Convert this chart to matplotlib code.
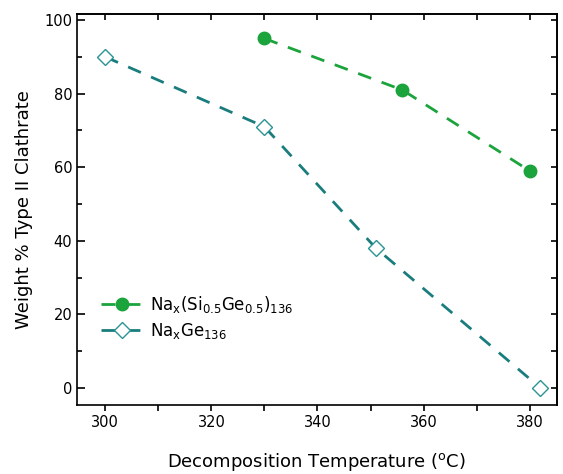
import matplotlib
matplotlib.use('Agg')
import matplotlib.pyplot as plt
from matplotlib.ticker import MultipleLocator

# data
#
sige_temp = [330, 356, 380]
sige_wt = [95, 81, 59]
ge_temp = [300, 330, 351, 382]
ge_wt = [90, 71, 38, 0]

green = '#1ba33c'
teal = '#1a7d7d'

# plot
#
fig = plt.figure(figsize=(5.63, 4.74), dpi=100)
ax = fig.add_axes([0.137, 0.146, 0.852, 0.824])

ax.plot(sige_temp, sige_wt, color=green, lw=2, dashes=(5, 4),
        marker='o', ms=9, mfc=green, mec=green,
        label=r'Na$_\mathrm{x}$(Si$_{0.5}$Ge$_{0.5}$)$_{136}$')
ax.plot(ge_temp, ge_wt, color=teal, lw=2, dashes=(5, 4),
        marker='D', ms=8, mfc='white', mec='#2a9393', mew=1,
        label=r'Na$_\mathrm{x}$Ge$_{136}$')

# axes
#
ax.set_xlim(294.7, 385.1)
ax.set_ylim(-4.6, 101.6)
ax.xaxis.set_major_locator(MultipleLocator(20))
ax.xaxis.set_minor_locator(MultipleLocator(10))
ax.yaxis.set_major_locator(MultipleLocator(20))
ax.yaxis.set_minor_locator(MultipleLocator(10))
ax.tick_params(axis='x', which='both', direction='out', top=False, labelsize=10.5)
ax.tick_params(axis='x', which='both', length=4, width=1.2)
ax.tick_params(axis='y', which='both', direction='in', right=False, labelsize=10.5, width=1.2)
ax.tick_params(axis='y', which='major', length=6)
ax.tick_params(axis='y', which='minor', length=3.5)

top = ax.secondary_xaxis('top')
top.xaxis.set_major_locator(MultipleLocator(10))
top.tick_params(direction='in', labeltop=False, length=4.5, width=1.2)
right = ax.secondary_yaxis('right')
right.yaxis.set_major_locator(MultipleLocator(10))
right.tick_params(direction='in', labelright=False, length=4.5, width=1.2)
for s in list(ax.spines.values()) + [top.spines['top'], right.spines['right']]:
    s.set_linewidth(1.2)

# label
#
ax.set_xlabel(r'Decomposition Temperature ($^\mathrm{o}$C)', fontsize=13, labelpad=15)
ax.set_ylabel('Weight % Type II Clathrate', fontsize=13, labelpad=8)
ax.legend(loc='lower left', bbox_to_anchor=(0.018, 0.125), frameon=False,
          fontsize=12, handlelength=2.6, handletextpad=0.35, labelspacing=0.35)

# output
#
plt.savefig('out.png', dpi=100)
